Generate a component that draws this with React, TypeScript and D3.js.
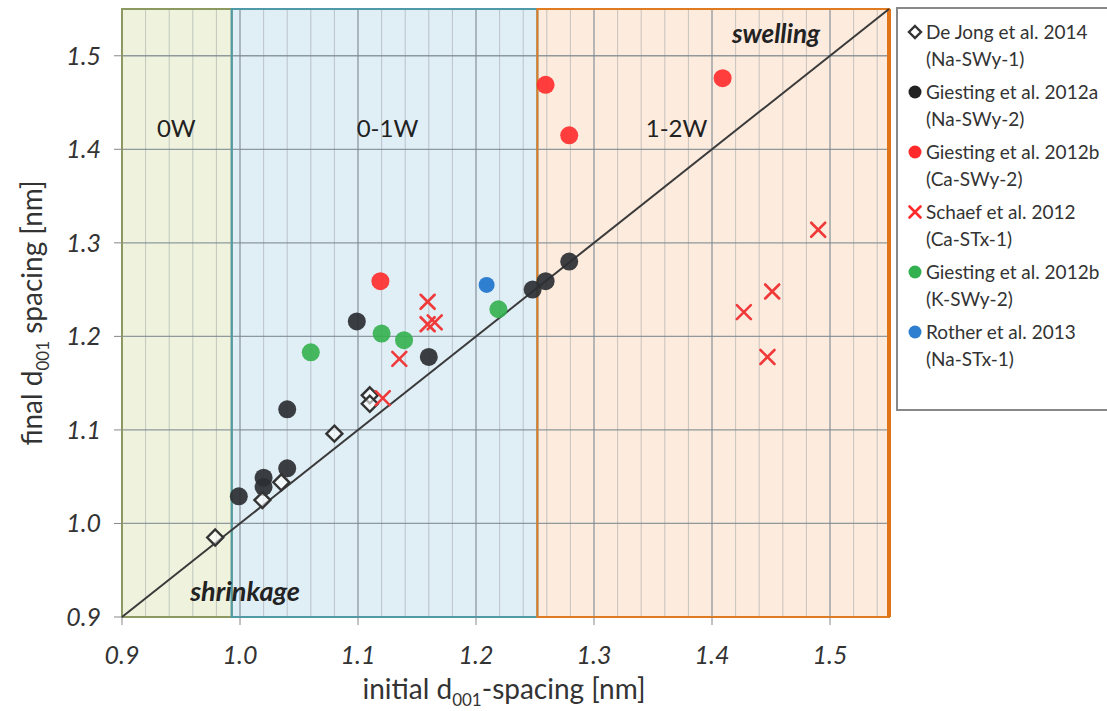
import React from 'react';
import * as d3 from 'd3';

// initial / final d001 spacing in nm
const deJongX = [0.979, 1.019, 1.035, 1.08, 1.11, 1.11];
const deJongY = [0.985, 1.025, 1.044, 1.096, 1.137, 1.128];

const giestingAX = [0.999, 1.02, 1.02, 1.04, 1.04, 1.099, 1.16, 1.248, 1.259, 1.279];
const giestingAY = [1.029, 1.049, 1.039, 1.059, 1.122, 1.216, 1.178, 1.25, 1.259, 1.28];

const giestingCaX = [1.259, 1.279, 1.409, 1.119];
const giestingCaY = [1.469, 1.415, 1.476, 1.259];

const schaefX = [1.159, 1.159, 1.165, 1.135, 1.121, 1.49, 1.451, 1.427, 1.447];
const schaefY = [1.237, 1.213, 1.215, 1.176, 1.134, 1.314, 1.248, 1.226, 1.178];

const giestingKX = [1.06, 1.12, 1.139, 1.219];
const giestingKY = [1.183, 1.203, 1.196, 1.229];

const rotherX = [1.209];
const rotherY = [1.255];

const xTicks = [0.9, 1.0, 1.1, 1.2, 1.3, 1.4, 1.5];
const yTicks = [0.9, 1.0, 1.1, 1.2, 1.3, 1.4, 1.5];

const regions = [
  { name: '0W', from: 0.9, to: 0.993, fill: '#eff3de', stroke: '#8c9a62', labelX: 0.946 },
  { name: '0-1W', from: 0.993, to: 1.252, fill: '#e0eef6', stroke: '#4f9aa6', labelX: 1.125 },
  { name: '1-2W', from: 1.252, to: 1.55, fill: '#fdebdd', stroke: '#e07b22', labelX: 1.37 },
];

const legend = [
  { l1: 'De Jong et al. 2014', l2: '(Na-SWy-1)', kind: 'diamond', color: '#222' },
  { l1: 'Giesting et al. 2012a', l2: '(Na-SWy-2)', kind: 'circle', color: '#222' },
  { l1: 'Giesting et al. 2012b', l2: '(Ca-SWy-2)', kind: 'circle', color: '#ff2a2a' },
  { l1: 'Schaef et al. 2012', l2: '(Ca-STx-1)', kind: 'cross', color: '#ff2a2a' },
  { l1: 'Giesting et al. 2012b', l2: '(K-SWy-2)', kind: 'circle', color: '#33b04f' },
  { l1: 'Rother et al. 2013', l2: '(Na-STx-1)', kind: 'circle', color: '#2f7fd1' },
];

const font = 'Lato, "Open Sans", sans-serif';

const Cross = ({ cx, cy, s, color }: { cx: number; cy: number; s: number; color: string }) => (
  <g stroke={color} strokeWidth={2.6} strokeLinecap="round">
    <line x1={cx - s} y1={cy - s} x2={cx + s} y2={cy + s} />
    <line x1={cx - s} y1={cy + s} x2={cx + s} y2={cy - s} />
  </g>
);

const Diamond = ({ cx, cy, s }: { cx: number; cy: number; s: number }) => (
  <path
    d={`M${cx},${cy - s}L${cx + s},${cy}L${cx},${cy + s}L${cx - s},${cy}Z`}
    fill="white"
    fillOpacity={0.6}
    stroke="#333"
    strokeWidth={2.4}
  />
);

export default function App() {
  const x = d3.scaleLinear().domain([0.9, 1.55]).range([122, 889]);
  const y = d3.scaleLinear().domain([0.9, 1.55]).range([617, 9]);

  const minorX = d3.range(46, 78).map((i) => i * 0.02).filter((v) => v > 0.905 && v < 1.545);
  const majorY = d3.range(10, 16).map((i) => i / 10);
  const isMajor = (v: number) => Math.abs(v * 10 - Math.round(v * 10)) < 1e-6;

  const diag = d3.line<number>().x((d) => x(d)).y((d) => y(d));

  return (
    <svg width={1107} height={711} style={{ position: 'absolute', left: 0, top: 0, background: 'white' }}>
      {/* water layer regions */}
      {regions.map((r) => (
        <rect key={r.name} x={x(r.from)} y={y(1.55)} width={x(r.to) - x(r.from)} height={y(0.9) - y(1.55)} fill={r.fill} />
      ))}

      {/* grid */}
      {minorX.map((v) => (
        <line
          key={'gx' + v}
          x1={x(v)}
          x2={x(v)}
          y1={y(1.55)}
          y2={y(0.9)}
          stroke={isMajor(v) ? '#7d8a90' : '#9aa3a6'}
          strokeOpacity={isMajor(v) ? 0.85 : 0.55}
          strokeWidth={isMajor(v) ? 1.3 : 1}
        />
      ))}
      {majorY.map((v) => (
        <line key={'gy' + v} x1={x(0.9)} x2={x(1.55)} y1={y(v)} y2={y(v)} stroke="#7d8a90" strokeOpacity={0.85} strokeWidth={1.3} />
      ))}

      {/* region borders */}
      {regions.map((r) => (
        <rect
          key={'b' + r.name}
          x={x(r.from)}
          y={y(1.55)}
          width={x(r.to) - x(r.from)}
          height={y(0.9) - y(1.55)}
          fill="none"
          stroke={r.stroke}
          strokeWidth={2}
        />
      ))}
      <line x1={x(1.55)} x2={x(1.55)} y1={y(1.55)} y2={y(0.9)} stroke="#e07418" strokeWidth={4} />

      {/* ticks */}
      {xTicks.map((t) => (
        <g key={'xt' + t}>
          <line x1={x(t)} x2={x(t)} y1={y(0.9)} y2={y(0.9) + 8} stroke="#888" />
          <text x={x(t)} y={664} textAnchor="middle" fontFamily={font} fontStyle="italic" fontSize={25} fill="#333">
            {t.toFixed(1)}
          </text>
        </g>
      ))}
      {yTicks.map((t) => (
        <g key={'yt' + t}>
          <line x1={x(0.9) - 8} x2={x(0.9)} y1={y(t)} y2={y(t)} stroke="#888" />
          <text x={101} y={y(t) + 9} textAnchor="end" fontFamily={font} fontStyle="italic" fontSize={25} fill="#333">
            {t.toFixed(1)}
          </text>
        </g>
      ))}

      {/* axis titles */}
      <text x={504} y={699} textAnchor="middle" fontFamily={font} fontSize={28} fill="#333">
        initial d<tspan fontSize={17} dy={7}>001</tspan>
        <tspan dy={-7}>-spacing [nm]</tspan>
      </text>
      <text transform="translate(42,313) rotate(-90)" textAnchor="middle" fontFamily={font} fontSize={28} fill="#333">
        final d<tspan fontSize={17} dy={7}>001</tspan>
        <tspan dy={-7}> spacing [nm]</tspan>
      </text>

      {/* region labels */}
      {regions.map((r) => (
        <text key={'l' + r.name} x={x(r.labelX)} y={137} textAnchor="middle" fontFamily={font} fontSize={24} fill="#222">
          {r.name}
        </text>
      ))}
      <text x={776} y={43} textAnchor="middle" fontFamily={font} fontStyle="italic" fontWeight="bold" fontSize={26} fill="#222">
        swelling
      </text>
      <text x={245} y={601} textAnchor="middle" fontFamily={font} fontStyle="italic" fontWeight="bold" fontSize={27} fill="#222">
        shrinkage
      </text>

      {/* 1:1 line */}
      <path d={diag([0.9, 1.55]) ?? ''} stroke="#3a3a3a" strokeWidth={2} fill="none" />

      {/* data */}
      {giestingAX.map((v, i) => (
        <circle key={'a' + i} cx={x(v)} cy={y(giestingAY[i])} r={9} fill="#2b2f33" fillOpacity={0.92} />
      ))}
      {deJongX.map((v, i) => (
        <Diamond key={'d' + i} cx={x(v)} cy={y(deJongY[i])} s={8} />
      ))}
      {giestingCaX.map((v, i) => (
        <circle key={'c' + i} cx={x(v)} cy={y(giestingCaY[i])} r={9} fill="#ff2a2a" fillOpacity={0.9} />
      ))}
      {giestingKX.map((v, i) => (
        <circle key={'k' + i} cx={x(v)} cy={y(giestingKY[i])} r={9} fill="#33b04f" fillOpacity={0.9} />
      ))}
      {rotherX.map((v, i) => (
        <circle key={'r' + i} cx={x(v)} cy={y(rotherY[i])} r={8} fill="#2f7fd1" />
      ))}
      {schaefX.map((v, i) => (
        <Cross key={'s' + i} cx={x(v)} cy={y(schaefY[i])} s={7} color="#f03a3a" />
      ))}

      {/* legend */}
      <rect x={897} y={8} width={214} height={402} fill="white" stroke="#888" strokeWidth={2} />
      {legend.map((e, i) => {
        const cy = 32 + i * 60;
        return (
          <g key={'lg' + i}>
            {e.kind === 'diamond' && <Diamond cx={915} cy={cy} s={6} />}
            {e.kind === 'circle' && <circle cx={915} cy={cy} r={6.5} fill={e.color} />}
            {e.kind === 'cross' && <Cross cx={915} cy={cy} s={5.5} color={e.color} />}
            <text x={926} y={cy + 7} fontFamily={font} fontSize={19} fill="#333">
              {e.l1}
            </text>
            <text x={926} y={cy + 34} fontFamily={font} fontSize={19} fill="#333">
              {e.l2}
            </text>
          </g>
        );
      })}
    </svg>
  );
}
